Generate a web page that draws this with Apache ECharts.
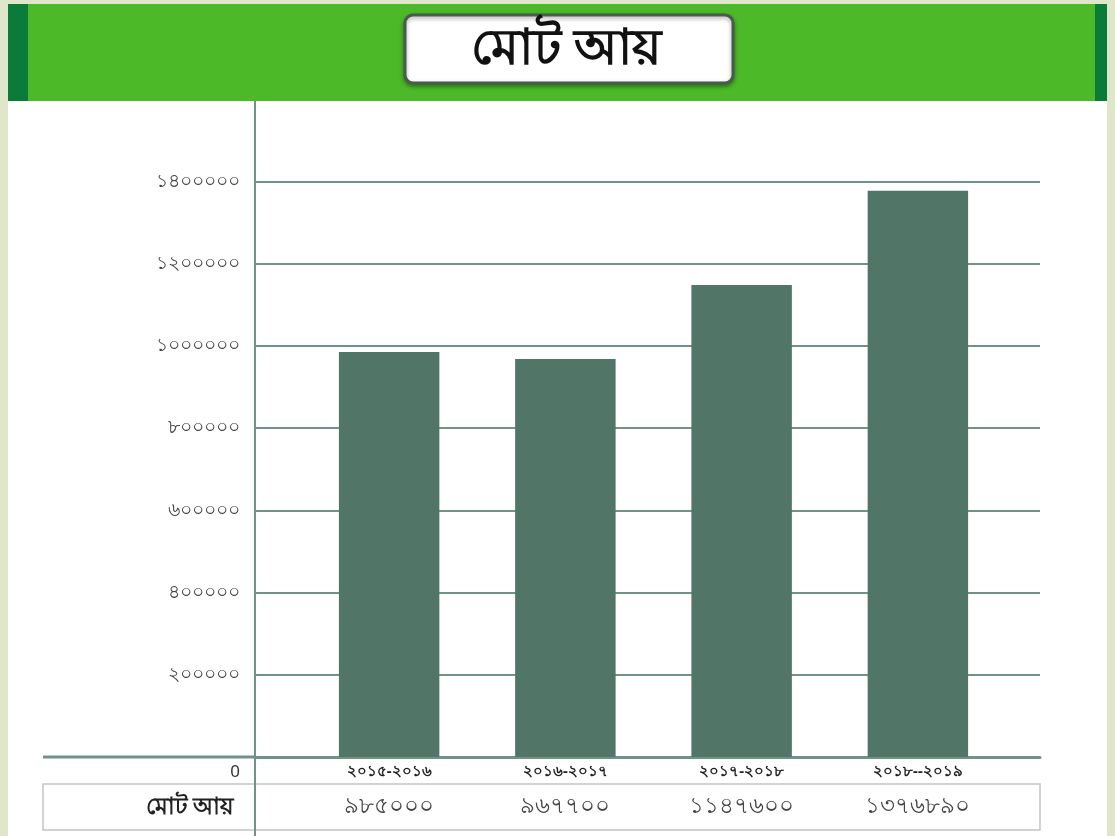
<!DOCTYPE html>
<html>
<head>
<meta charset="utf-8">
<script src="https://cdn.jsdelivr.net/npm/echarts@6/dist/echarts.min.js"></script>
<style>
html,body{margin:0;padding:0;background:#dfe6c9;}
#chart{width:1115px;height:836px;}
</style>
</head>
<body>
<div id="chart"></div>
<script>
const titleText = 'মোট আয়';
const seriesName = 'মোট আয়';
const categories = ['২০১৫-২০১৬', '২০১৬-২০১৭', '২০১৭-২০১৮', '২০১৮--২০১৯'];
const values = [985000, 967700, 1147600, 1376890];
const valueLabels = ['৯৮৫০০০', '৯৬৭৭০০', '১১৪৭৬০০', '১৩৭৬৮৯০'];
const yTickValues = [0, 200000, 400000, 600000, 800000, 1000000, 1200000, 1400000];
const yTickLabels = ['0', '২০০০০০', '৪০০০০০', '৬০০০০০', '৮০০০০০', '১০০০০০০', '১২০০০০০', '১৪০০০০০'];

const FONT = '"Noto Sans", "DejaVu Sans", sans-serif';
const GRID_COLOR = '#6f9385';
const BAR_COLOR = '#517566';

const chart = echarts.init(document.getElementById('chart'));
const yLabel = v => {
  const i = yTickValues.indexOf(v);
  if (i <= 0) return '';
  return yTickLabels[i];
};

chart.setOption({
  backgroundColor: '#dfe6c9',
  animation: false,
  grid: [
    {left: 255, right: 75, top: 99, bottom: 79},
    {left: 301, right: 109, top: 99, bottom: 79}
  ],
  xAxis: [
    {
      gridIndex: 0, type: 'category', data: categories,
      axisLine: {show: true, lineStyle: {color: GRID_COLOR, width: 3}},
      axisTick: {show: false}, axisLabel: {show: false}, splitLine: {show: false}
    },
    {
      gridIndex: 1, type: 'category', data: categories,
      axisLine: {show: false}, axisTick: {show: false},
      axisLabel: {
        show: true, margin: 5, interval: 0,
        formatter: (v, i) => '{c|' + v + '}\n{v|' + valueLabels[i] + '}',
        rich: {
          c: {fontFamily: FONT, fontSize: 15, fontWeight: 'bold', color: '#222', lineHeight: 20},
          v: {fontFamily: FONT, fontSize: 23, color: '#444', lineHeight: 48}
        }
      }
    }
  ],
  yAxis: [
    {
      gridIndex: 0, type: 'value', min: 0, max: 1600000, interval: 200000,
      axisLine: {show: true, lineStyle: {color: GRID_COLOR, width: 2}},
      axisTick: {show: false},
      axisLabel: {formatter: yLabel, fontFamily: FONT, fontSize: 19, color: '#444', margin: 15},
      splitLine: {show: true, lineStyle: {color: GRID_COLOR, width: 2}}
    },
    {
      gridIndex: 1, type: 'value', min: 0, max: 1600000, interval: 200000,
      show: false, splitLine: {show: false}
    }
  ],
  series: [{
    name: seriesName, type: 'bar', xAxisIndex: 1, yAxisIndex: 1,
    data: values, barCategoryGap: '43%',
    itemStyle: {color: BAR_COLOR}
  }],
  graphic: [
    {type: 'rect', z: -10, shape: {x: 8, y: 90, width: 1099, height: 746}, style: {fill: '#ffffff'}},
    {type: 'rect', z: 100, shape: {x: 8, y: 4, width: 1099, height: 97}, style: {fill: '#4cb928'}},
    {type: 'rect', z: 101, shape: {x: 8, y: 4, width: 20, height: 97}, style: {fill: '#0b7b3a'}},
    {type: 'rect', z: 101, shape: {x: 1095, y: 4, width: 12, height: 97}, style: {fill: '#0b7b3a'}},
    {type: 'rect', z: 102, shape: {x: 405, y: 15, width: 328, height: 68, r: 8},
      style: {fill: '#ffffff', stroke: '#4a5a4e', lineWidth: 3, shadowBlur: 4, shadowColor: 'rgba(0,0,0,0.35)', shadowOffsetY: 2}},
    {type: 'text', z: 103, x: 566, y: 50,
      style: {text: titleText, font: 'bold 50px ' + FONT, fill: '#111', align: 'center', verticalAlign: 'middle'}},
    {type: 'line', z: 5, shape: {x1: 43, y1: 757, x2: 255, y2: 757}, style: {stroke: GRID_COLOR, lineWidth: 3}},
    {type: 'line', z: 5, shape: {x1: 255, y1: 757, x2: 255, y2: 836}, style: {stroke: GRID_COLOR, lineWidth: 2}},
    {type: 'rect', z: 4, shape: {x: 43, y: 784, width: 997, height: 46}, style: {fill: 'none', stroke: '#c4c4c4', lineWidth: 1.5}},
    {type: 'text', z: 6, x: 240, y: 772, style: {text: yTickLabels[0], font: '17px ' + FONT, fill: '#333', align: 'right', verticalAlign: 'middle'}},
    {type: 'text', z: 6, x: 190, y: 807, style: {text: seriesName, font: 'bold 23px ' + FONT, fill: '#222', align: 'center', verticalAlign: 'middle'}}
  ]
});
</script>
</body>
</html>
